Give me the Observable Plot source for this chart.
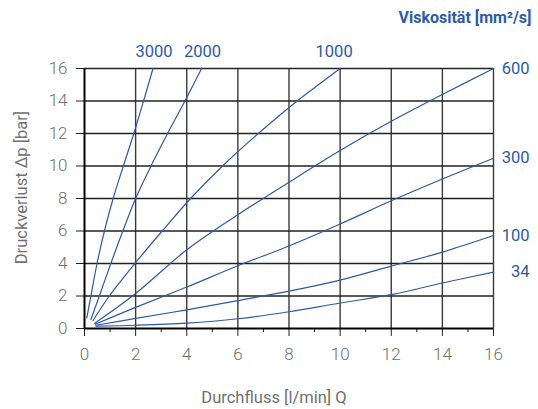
<!DOCTYPE html>
<html>
<head>
<meta charset="utf-8">
<script src="https://cdn.jsdelivr.net/npm/d3@7"></script>
<script src="https://cdn.jsdelivr.net/npm/@observablehq/plot@0.6"></script>
<style>
  html, body { margin: 0; padding: 0; background: #fff; }
  #chart svg { display: block; }
</style>
</head>
<body>
<div id="chart"></div>
<script>
// Viscosity classes (mm²/s)
const viscosities = [3000, 2000, 1000, 600, 300, 100, 34];

// Flow Q [l/min] and pressure loss Δp [bar]
const flow3000 = [0.09, 0.25, 0.49, 0.78, 1.12, 1.52, 1.93, 2.31, 2.68];
const dp3000   = [0.65, 2, 4, 6, 8, 10, 12, 14, 16];

const flow2000 = [0.25, 0.58, 1.03, 1.50, 2.00, 2.60, 3.25, 3.93, 4.58];
const dp2000   = [0.55, 2, 4, 6, 8, 10, 12, 14, 16];

const flow1000 = [0.33, 0.97, 1.97, 3.04, 4.15, 5.40, 6.80, 8.32, 10];
const dp1000   = [0.48, 2, 4, 6, 8, 10, 12, 14, 16];

const flow600 = [0.40, 2, 4, 6, 8, 10, 12, 14, 16];
const dp600   = [0.32, 2.15, 4.84, 7.0, 9.0, 10.95, 12.75, 14.4, 16];

const flow300 = [0.42, 2, 4, 6, 8, 10, 12, 14, 16];
const dp300   = [0.26, 1.3, 2.55, 3.86, 5.08, 6.43, 7.86, 9.2, 10.48];

const flow100 = [0.44, 2, 4, 6, 8, 10, 12, 14, 16];
const dp100   = [0.2, 0.62, 1.15, 1.72, 2.3, 2.98, 3.84, 4.7, 5.72];

const flow34 = [0.45, 2, 4, 6, 8, 10, 12, 14, 16];
const dp34   = [0.15, 0.2, 0.33, 0.6, 1.03, 1.57, 2.08, 2.8, 3.47];

// Axis ticks
const xTicks = [0, 2, 4, 6, 8, 10, 12, 14, 16];
const xMinorTicks = [1, 3, 5, 7, 9, 11, 13, 15];
const yTicks = [0, 2, 4, 6, 8, 10, 12, 14, 16];

// Texts
const xLabel = "Durchfluss [l/min] Q";
const yLabel = "Druckverlust Δp [bar]";
const legendTitle = "Viskosität [mm²/s]";

const flows = [flow3000, flow2000, flow1000, flow600, flow300, flow100, flow34];
const dps = [dp3000, dp2000, dp1000, dp600, dp300, dp100, dp34];

const rows = viscosities.flatMap((v, i) =>
  flows[i].map((q, j) => ({visc: v, q, dp: dps[i][j]}))
);
const ends = viscosities.map((v, i) => ({
  visc: v,
  q: flows[i][flows[i].length - 1],
  dp: dps[i][dps[i].length - 1]
}));

const blue = "#2d5aa6";
const grey = "#707070";

const chart = Plot.plot({
  width: 538,
  height: 409,
  marginLeft: 84,
  marginRight: 45,
  marginTop: 68,
  marginBottom: 81,
  style: {fontFamily: "Roboto, 'DejaVu Sans', sans-serif", fontSize: "16px", background: "#fff"},
  x: {domain: [0, 16]},
  y: {domain: [0, 16]},
  marks: [
    // grid
    Plot.ruleX(xTicks.filter(d => d > 0), {stroke: "#3a3a3a", strokeWidth: 1.4}),
    Plot.ruleY(yTicks.filter(d => d > 0), {stroke: "#222", strokeWidth: 1.4}),
    // axes
    Plot.axisX({ticks: xTicks, tickSize: 8, tickPadding: 11, stroke: "#222", fill: grey, label: null, fontSize: 17, fontWeight: 300}),
    Plot.axisX({ticks: xMinorTicks, tickSize: 4, stroke: "#222", fill: "none", label: null}),
    Plot.axisY({ticks: yTicks, tickSize: 8, tickPadding: 9, stroke: "#222", fill: grey, label: null, fontSize: 17, fontWeight: 300}),
    Plot.ruleX([0], {stroke: "#000", strokeWidth: 2}),
    Plot.ruleY([0], {stroke: "#000", strokeWidth: 2}),
    // curves
    Plot.line(rows, {x: "q", y: "dp", z: "visc", stroke: blue, strokeWidth: 1.2, curve: "catmull-rom"}),
    // curve labels on top
    Plot.text(ends.filter(d => d.q < 16 && d.visc !== 1000), {x: "q", y: "dp", text: d => String(d.visc), dy: -17, dx: 1, fill: blue, fontSize: 16.5}),
    Plot.text(ends.filter(d => d.visc === 1000), {x: "q", y: "dp", text: d => String(d.visc), dy: -17, dx: -6, fill: blue, fontSize: 16.5}),
    // curve labels on the right
    Plot.text(ends.filter(d => d.q >= 16), {x: "q", y: "dp", text: d => String(d.visc), dx: 36, textAnchor: "end", fill: blue, fontSize: 16.5}),
    // legend title
    Plot.text([legendTitle], {frameAnchor: "top-right", dx: 38, dy: -51, textAnchor: "end", lineAnchor: "middle", fill: blue, fontWeight: "bold", fontSize: 16}),
    // axis titles
    Plot.text([xLabel], {frameAnchor: "bottom", dx: -15, dy: 69, textAnchor: "middle", lineAnchor: "middle", fill: grey, fontSize: 16.5}),
    Plot.text([yLabel], {frameAnchor: "left", dx: -63, dy: -11, rotate: -90, textAnchor: "middle", lineAnchor: "middle", fill: grey, fontSize: 16.5})
  ]
});

document.getElementById("chart").append(chart);
</script>
</body>
</html>
